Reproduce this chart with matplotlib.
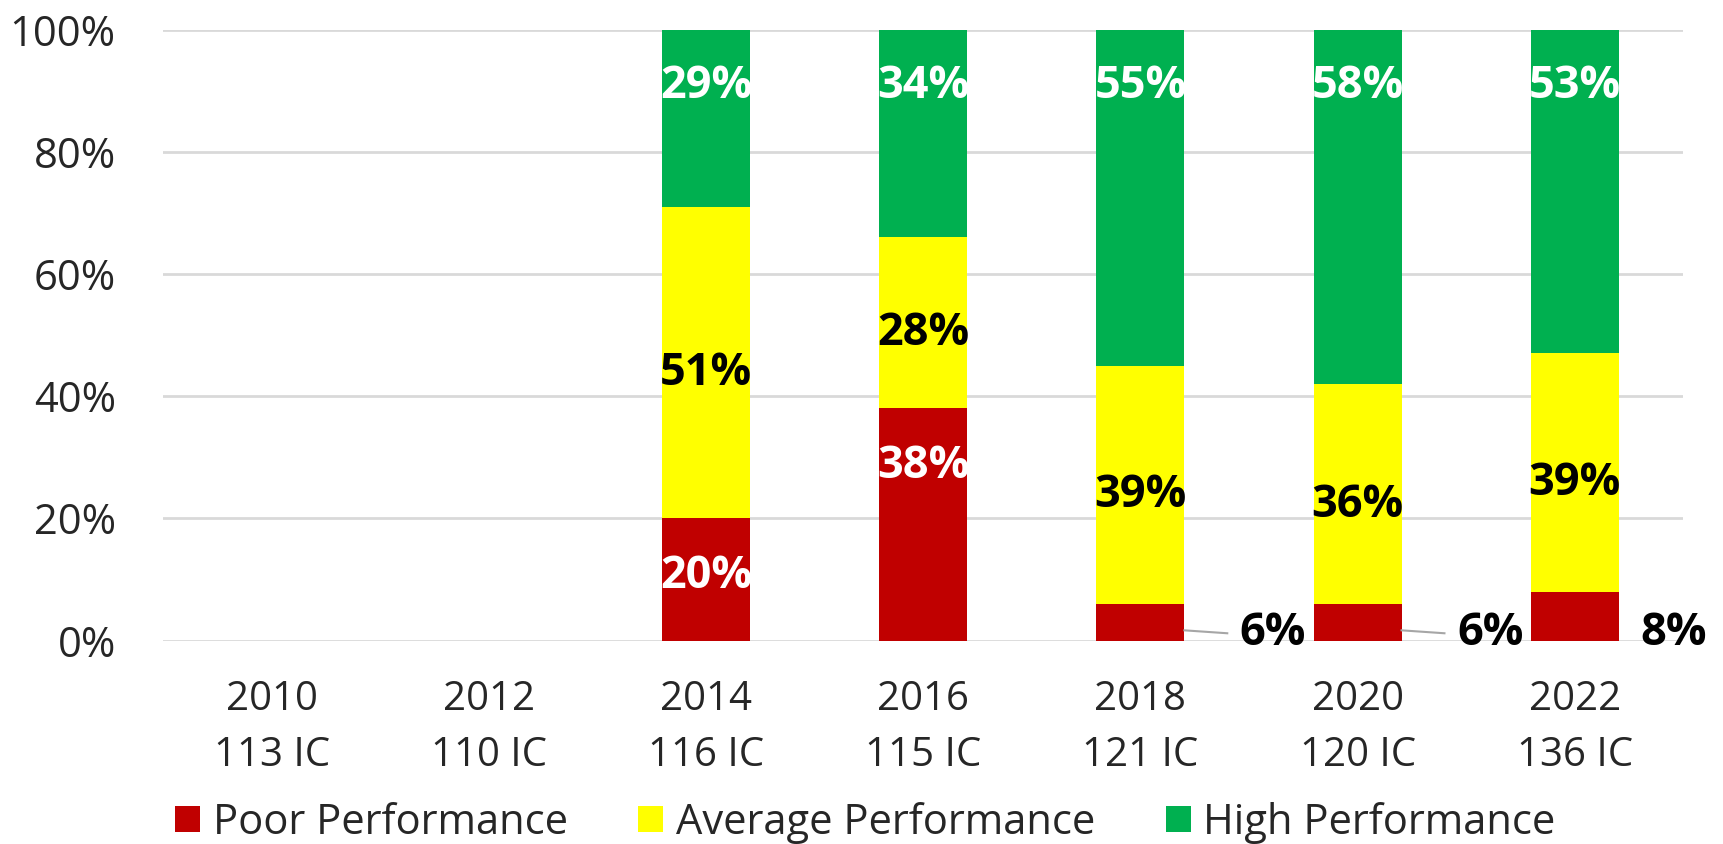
import matplotlib.pyplot as plt
import numpy as np

plt.rcParams['font.family'] = ['Open Sans', 'DejaVu Sans']

# Data
years = ['2010', '2012', '2014', '2016', '2018', '2020', '2022']
counts = ['113 IC', '110 IC', '116 IC', '115 IC', '121 IC', '120 IC', '136 IC']
poor = [0, 0, 20, 38, 6, 6, 8]
average = [0, 0, 51, 28, 39, 36, 39]
high = [0, 0, 29, 34, 55, 58, 53]

red = '#C00000'
yellow = '#FFFF00'
green = '#00B050'

fig = plt.figure(figsize=(17.23, 8.44), dpi=100)
ax = fig.add_axes([0.0946, 0.241, 0.8824, 0.724])

x = np.arange(len(years))
w = 0.405
poor = np.array(poor)
average = np.array(average)
high = np.array(high)

ax.bar(x, poor, w, color=red, label='Poor Performance', zorder=3)
ax.bar(x, average, w, bottom=poor, color=yellow, label='Average Performance', zorder=3)
ax.bar(x, high, w, bottom=poor + average, color=green, label='High Performance', zorder=3)

lab = dict(fontsize=32.5, fontweight='bold', ha='center', va='center', zorder=5)

for i in x:
    if poor[i] + average[i] + high[i] == 0:
        continue
    top = poor[i] + average[i] + high[i]
    # high performance: inside end
    ax.annotate(f'{high[i]}%', (i, top), xytext=(0, -41), textcoords='offset points',
                color='white', **lab)
    # average: centred
    ax.annotate(f'{average[i]}%', (i, poor[i] + average[i] / 2), xytext=(0, -8),
                textcoords='offset points', color='black', **lab)
    # poor
    if poor[i] >= 15:
        ax.annotate(f'{poor[i]}%', (i, poor[i]), xytext=(0, -42),
                    textcoords='offset points', color='white', **lab)
    elif poor[i] < 8:
        ax.plot([i + w / 2, i + 0.40], [poor[i] * 0.28, poor[i] * 0.2],
                color='#a6a6a6', lw=1.5, zorder=4)
        ax.text(i + 0.61, 1.2, f'{poor[i]}%', color='black', clip_on=False, **lab)
    else:
        ax.text(i + 0.455, 1.2, f'{poor[i]}%', color='black', clip_on=False, **lab)

ax.set_xlim(-0.5, 6.5)
ax.set_ylim(0, 100)
ax.set_yticks(range(0, 101, 20))
ax.set_yticklabels([f'{v}%' for v in range(0, 101, 20)])
ax.set_xticks(x)
ax.set_xticklabels([f'{y}\n{c}' for y, c in zip(years, counts)], linespacing=1.5)
ax.tick_params(axis='y', length=0, pad=34, labelsize=30, colors='#262626')
ax.tick_params(axis='x', length=0, pad=28, labelsize=29, colors='#262626')
ax.yaxis.grid(True, color='#d9d9d9', lw=2, zorder=0)
for s in ax.spines.values():
    s.set_visible(False)

ax.legend(loc='upper center', bbox_to_anchor=(0.462, -0.216), ncol=3, frameon=False,
          fontsize=30, handlelength=0.6, handleheight=0.6, handletextpad=0.3,
          columnspacing=1.7, labelcolor='#262626', borderaxespad=0.3)

fig.savefig('out.png', dpi=100)
